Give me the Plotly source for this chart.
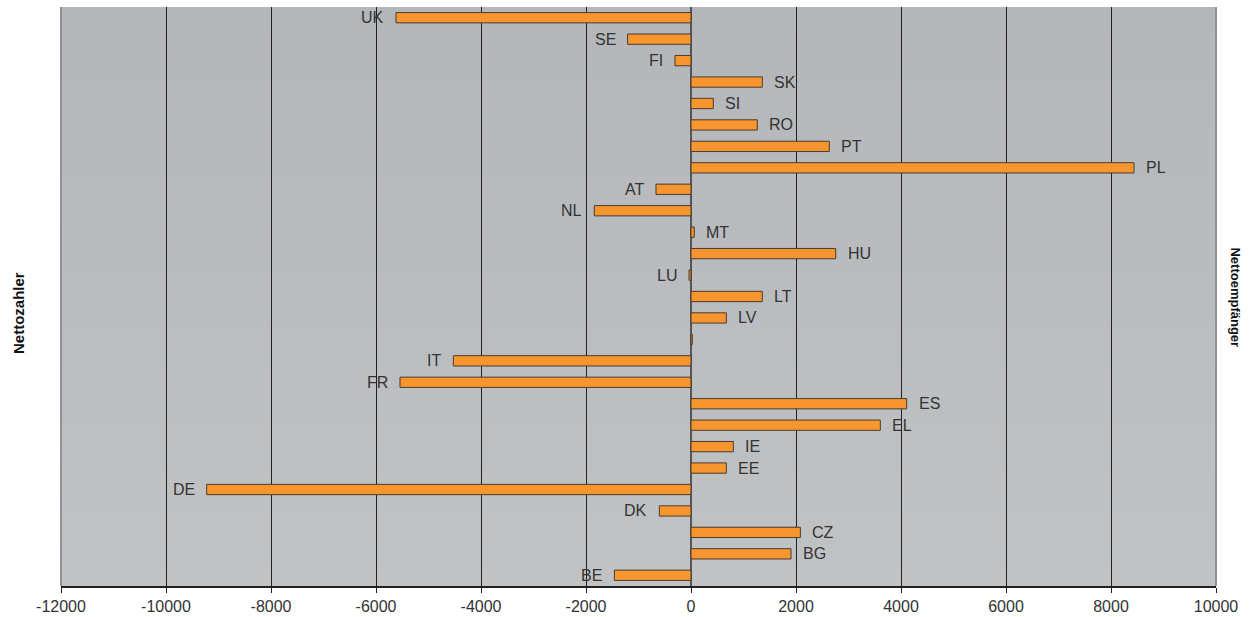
import plotly.graph_objects as go

# Categories bottom -> top
countries = ["BE", "BG", "CZ", "DK", "DE", "EE", "IE", "EL", "ES", "FR", "IT", "CY",
             "LV", "LT", "LU", "HU", "MT", "NL", "AT", "PL", "PT", "RO", "SI", "SK",
             "FI", "SE", "UK"]
labels = ["BE", "BG", "CZ", "DK", "DE", "EE", "IE", "EL", "ES", "FR", "IT", "",
          "LV", "LT", "LU", "HU", "MT", "NL", "AT", "PL", "PT", "RO", "SI", "SK",
          "FI", "SE", "UK"]
values = [-1460, 1905, 2083, -603, -9225, 673, 806, 3606, 4108, -5543, -4527, 25,
          673, 1358, -38, 2756, 63, -1842, -667, 8438, 2635, 1263, 425, 1358,
          -305, -1208, -5619]
x_ticks = [-12000, -10000, -8000, -6000, -4000, -2000, 0, 2000, 4000, 6000, 8000, 10000]

FONT = "Liberation Sans, Arial, sans-serif"

fig = go.Figure()
fig.add_trace(go.Bar(
    y=countries, x=values, orientation="h",
    marker=dict(color="#f7962f", line=dict(color="#4a3b2c", width=1)),
    width=0.48, showlegend=False, hoverinfo="x+y",
))

annotations = []
for c, lab, v in zip(countries, labels, values):
    if not lab:
        continue
    annotations.append(dict(
        x=v, y=c, xref="x", yref="y", text=lab, showarrow=False,
        xanchor="left" if v >= 0 else "right",
        xshift=10 if v >= 0 else -10,
        font=dict(family=FONT, size=16, color="#333333"),
    ))

annotations.append(dict(
    x=-0.037, y=0.472, xref="paper", yref="paper", text="<b>Nettozahler</b>",
    showarrow=False, textangle=-90, xanchor="center", yanchor="middle",
    font=dict(family=FONT, size=15, color="#111111"),
))
annotations.append(dict(
    x=1.017, y=0.499, xref="paper", yref="paper", text="<b>Nettoempfänger</b>",
    showarrow=False, textangle=90, xanchor="center", yanchor="middle",
    font=dict(family=FONT, size=13, color="#111111"),
))

# subtle vertical gradient of the plot background (styling only)
shapes = []
n_bands = 24
top_rgb = (180, 183, 186)
bot_rgb = (192, 194, 196)
for i in range(n_bands):
    f = i / (n_bands - 1)
    col = tuple(round(top_rgb[k] + (bot_rgb[k] - top_rgb[k]) * f) for k in range(3))
    shapes.append(dict(
        type="rect", xref="paper", yref="paper", x0=0, x1=1,
        y1=1 - i / n_bands, y0=1 - (i + 1) / n_bands - 0.002,
        fillcolor="rgb(%d,%d,%d)" % col, line=dict(width=0), layer="below",
    ))
shapes += [
    dict(type="line", xref="paper", yref="paper", x0=0, x1=0, y0=0, y1=1,
         line=dict(color="#8f9194", width=2)),
    dict(type="line", xref="paper", yref="paper", x0=1, x1=1, y0=0, y1=1,
         line=dict(color="#8f9194", width=2)),
]

fig.update_layout(
    width=1259, height=617,
    margin=dict(l=61, r=43, t=7, b=31, autoexpand=False),
    paper_bgcolor="white",
    plot_bgcolor="#babdc0",
    font=dict(family=FONT, size=16, color="#333333"),
    annotations=annotations,
    bargap=0.5,
    xaxis=dict(
        range=[-12000, 10000], tickvals=x_ticks,
        ticktext=[str(t) for t in x_ticks],
        showgrid=True, gridcolor="#222222", gridwidth=1,
        zeroline=True, zerolinecolor="#555555", zerolinewidth=1.5,
        showline=True, linecolor="#222222", linewidth=1.5,
        ticks="outside", ticklen=5, tickcolor="#222222",
        tickfont=dict(family=FONT, size=16, color="#333333"),
        mirror=False, automargin=False,
    ),
    yaxis=dict(
        categoryorder="array", categoryarray=countries,
        showticklabels=False, showgrid=False, ticks="",
        showline=False, zeroline=False, automargin=False,
        range=[-0.5, len(countries) - 0.5],
    ),
    shapes=shapes,
)

fig.write_html(
    "out.html",
    config={"displayModeBar": False},
    post_script="document.body.style.margin='0';document.body.style.overflow='hidden';",
)
